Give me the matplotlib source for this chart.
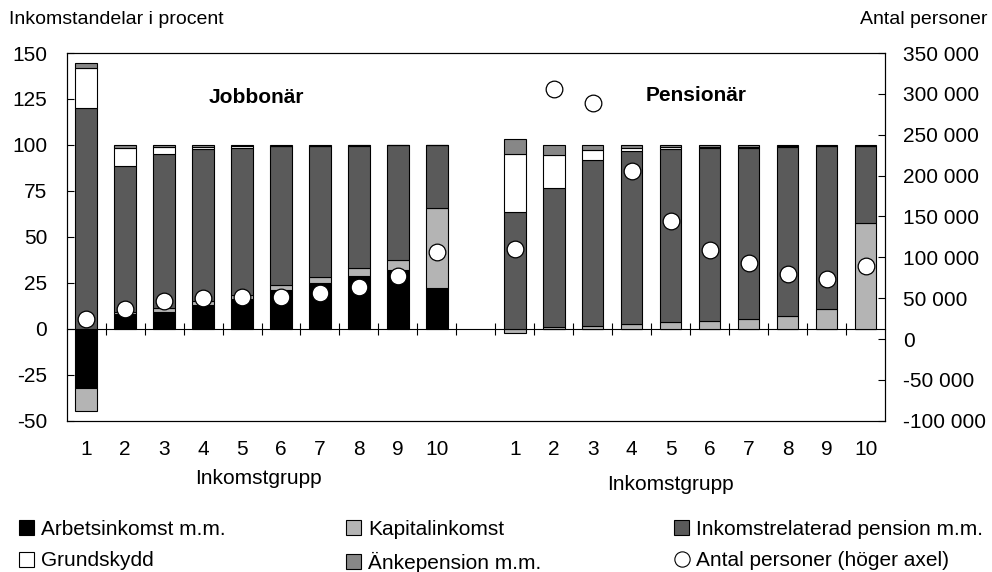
import numpy as np
import matplotlib
matplotlib.use('Agg')
import matplotlib.pyplot as plt
from matplotlib.patches import Patch
from matplotlib.lines import Line2D
from matplotlib.ticker import FuncFormatter

plt.rc('font', family='Liberation Sans', size=15)
plt.rcParams['axes.unicode_minus'] = False

groups = ['1', '2', '3', '4', '5', '6', '7', '8', '9', '10']

# Jobbonär
jobb_arbets = [-32.0, 8.2, 9.1, 13.1, 16.5, 20.9, 24.9, 28.5, 31.8, 22.0]
jobb_kapital = [-12.6, 0.9, 2.2, 1.8, 2.0, 2.9, 3.1, 4.4, 5.8, 43.8]
jobb_inkpension = [119.9, 79.4, 83.6, 82.7, 80.0, 75.5, 71.5, 66.7, 62.4, 34.2]
jobb_grund = [21.8, 10.0, 4.0, 1.3, 0.8, 0.2, 0.2, 0.2, 0.0, 0.0]
jobb_anke = [3.0, 1.5, 1.1, 1.1, 0.7, 0.5, 0.3, 0.2, 0.0, 0.0]
jobb_antal = [25000, 37000, 47000, 50000, 52000, 52000, 57000, 64000, 77000, 107000]

# Pensionär
pens_arbets = [0, 0, 0, 0, 0, 0, 0, 0, 0, 0]
pens_kapital = [-2.5, 1.0, 1.4, 2.4, 3.5, 4.2, 5.6, 7.1, 10.9, 57.6]
pens_inkpension = [63.6, 75.5, 90.2, 94.1, 94.1, 94.0, 92.9, 91.8, 88.6, 41.7]
pens_grund = [31.5, 18.2, 5.9, 1.7, 1.1, 0.7, 0.6, 0.4, 0.2, 0.4]
pens_anke = [8.0, 5.3, 2.5, 1.8, 1.3, 1.1, 0.9, 0.7, 0.3, 0.3]
pens_antal = [110000, 306000, 289000, 206000, 145000, 109000, 93000, 80000, 74000, 89000]

labels = ['Arbetsinkomst m.m.', 'Kapitalinkomst', 'Inkomstrelaterad pension m.m.',
          'Grundskydd', 'Änkepension m.m.']
colors = ['#000000', '#b4b4b4', '#5a5a5a', '#ffffff', '#878787']

x_jobb = np.arange(10)
x_pens = np.arange(11, 21)

fig = plt.figure(figsize=(9.92, 5.72), dpi=100)
ax = fig.add_axes([0.0672, 0.2643, 0.8250, 0.6430])

for xs, series in [(x_jobb, [jobb_arbets, jobb_kapital, jobb_inkpension, jobb_grund, jobb_anke]),
                   (x_pens, [pens_arbets, pens_kapital, pens_inkpension, pens_grund, pens_anke])]:
    pos = np.zeros(10)
    neg = np.zeros(10)
    for vals, c in zip(series, colors):
        vals = np.array(vals, dtype=float)
        bottom = np.where(vals >= 0, pos, neg)
        ax.bar(xs, vals, bottom=bottom, width=0.55, color=c, edgecolor='black', linewidth=0.8, zorder=2)
        pos = pos + np.where(vals >= 0, vals, 0)
        neg = neg + np.where(vals < 0, vals, 0)

ax.set_xlim(-0.5, 20.5)
ax.set_ylim(-50, 150)
ax.set_yticks(np.arange(-50, 151, 25))
ax.set_xticks(np.concatenate([x_jobb, x_pens]))
ax.set_xticklabels(groups + groups)
ax.tick_params(axis='x', length=0, pad=14)
ax.tick_params(axis='y', direction='in', length=5, pad=14)
for s in ax.spines.values():
    s.set_linewidth(0.8)

# zero line with category separators
sec = ax.secondary_xaxis(0.25)
sec.set_xticks(np.arange(0.5, 20, 1))
sec.tick_params(direction='inout', length=8, width=0.8, labelbottom=False, labeltop=False)
sec.spines['bottom'].set_linewidth(0.8)

ax2 = ax.twinx()
ax2.set_ylim(-100000, 350000)
ax2.set_yticks(np.arange(-100000, 350001, 50000))
ax2.yaxis.set_major_formatter(FuncFormatter(lambda v, p: f'{v:,.0f}'.replace(',', ' ')))
ax2.tick_params(axis='y', direction='in', length=5, pad=13)
ax2.plot(x_jobb, jobb_antal, 'o', markersize=12, markerfacecolor='white',
         markeredgecolor='black', markeredgewidth=0.9, zorder=5)
ax2.plot(x_pens, pens_antal, 'o', markersize=12, markerfacecolor='white',
         markeredgecolor='black', markeredgewidth=0.9, zorder=5)

ax.text(4.38, 126, 'Jobbonär', fontweight='bold', ha='center', va='center')
ax.text(15.66, 127, 'Pensionär', fontweight='bold', ha='center', va='center')

fig.text(9 / 992, 1 - 19 / 572, 'Inkomstandelar i procent', ha='left', va='center', fontsize=14)
fig.text(988 / 992, 1 - 19 / 572, 'Antal personer', ha='right', va='center', fontsize=14)
fig.text(258 / 992, 1 - 478 / 572, 'Inkomstgrupp', ha='center', va='center')
fig.text(670 / 992, 1 - 484 / 572, 'Inkomstgrupp', ha='center', va='center')

h = [Patch(facecolor=c, edgecolor='black', linewidth=0.8) for c in colors]
circ = Line2D([], [], marker='o', linestyle='none', markersize=11,
              markerfacecolor='white', markeredgecolor='black', markeredgewidth=0.8)
legend_cols = [([h[0], h[3]], [labels[0], labels[3]], 19 / 992),
               ([h[1], h[4]], [labels[1], labels[4]], 346 / 992),
               ([h[2], circ], [labels[2], 'Antal personer (höger axel)'], 674 / 992)]
for hs, ls, xpos in legend_cols:
    fig.legend(hs, ls, loc='upper left', bbox_to_anchor=(xpos, 1 - 520 / 572),
               frameon=False, borderaxespad=0, borderpad=0, handlelength=0.72,
               handleheight=0.72, handletextpad=0.33, labelspacing=0.6, fontsize=15)

plt.savefig('out.png', dpi=100)
